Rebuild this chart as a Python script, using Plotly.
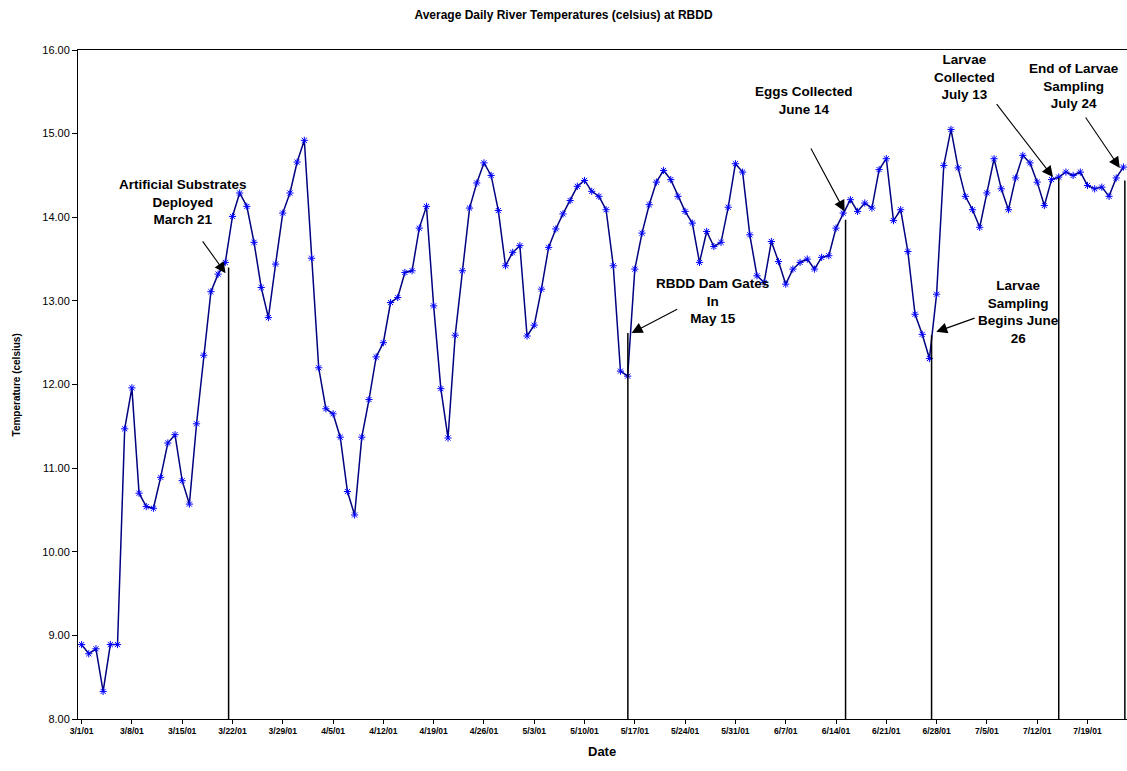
import pandas as pd
import plotly.graph_objects as go

# ---------------- data ----------------
start_date = "2001-03-01"

temps = [
    8.89, 8.78, 8.84, 8.33, 8.89, 8.89, 11.47, 11.96, 10.70, 10.54,
    10.52, 10.89, 11.30, 11.40, 10.85, 10.57, 11.53, 12.35, 13.11, 13.32,
    13.46, 14.01, 14.29, 14.13, 13.70, 13.16, 12.80, 13.44, 14.05, 14.29,
    14.66, 14.92, 13.51, 12.20, 11.71, 11.65, 11.37, 10.72, 10.44, 11.37,
    11.82, 12.33, 12.50, 12.98, 13.04, 13.34, 13.36, 13.87, 14.13, 12.94,
    11.95, 11.36, 12.59, 13.36, 14.11, 14.41, 14.65, 14.50, 14.08, 13.42,
    13.58, 13.66, 12.58, 12.71, 13.14, 13.64, 13.86, 14.04, 14.20, 14.37,
    14.44, 14.31, 14.25, 14.09, 13.42, 12.16, 12.10, 13.38, 13.81, 14.15,
    14.42, 14.56, 14.45, 14.25, 14.07, 13.93, 13.46, 13.83, 13.65, 13.70,
    14.12, 14.64, 14.54, 13.79, 13.30, 13.22, 13.71, 13.47, 13.20, 13.38,
    13.46, 13.50, 13.38, 13.52, 13.54, 13.87, 14.05, 14.21, 14.07, 14.17,
    14.11, 14.57, 14.70, 13.96, 14.09, 13.59, 12.84, 12.60, 12.31, 13.08,
    14.62, 15.05, 14.59, 14.25, 14.09, 13.88, 14.29, 14.70, 14.34, 14.09,
    14.47, 14.74, 14.65, 14.42, 14.14, 14.45, 14.48, 14.54, 14.50, 14.54,
    14.38, 14.34, 14.36, 14.25, 14.47, 14.60,
]

tick_labels = [
    "3/1/01", "3/8/01", "3/15/01", "3/22/01", "3/29/01", "4/5/01", "4/12/01",
    "4/19/01", "4/26/01", "5/3/01", "5/10/01", "5/17/01", "5/24/01", "5/31/01",
    "6/7/01", "6/14/01", "6/21/01", "6/28/01", "7/5/01", "7/12/01", "7/19/01",
]

y_tick_values = [8, 9, 10, 11, 12, 13, 14, 15, 16]

event_texts = [
    "Artificial Substrates<br>Deployed<br>March 21",
    "RBDD Dam Gates<br>In<br>May 15",
    "Eggs Collected<br>June 14",
    "Larvae<br>Sampling<br>Begins June<br>26",
    "Larvae<br>Collected<br>July 13",
    "End of Larvae<br>Sampling<br>July 24",
]

# ---------------- derived ----------------
t0 = pd.Timestamp(start_date)
dates = pd.date_range(t0, periods=len(temps), freq="D")
tick_vals = [pd.to_datetime(t, format="%m/%d/%y") for t in tick_labels]


def day(d):
    return (t0 + pd.Timedelta(days=d)).strftime("%Y-%m-%d %H:%M:%S")


FONT = "Arial, Liberation Sans, sans-serif"

fig = go.Figure()
fig.add_trace(go.Scatter(
    x=dates, y=temps, mode="lines+markers",
    line=dict(color="#000080", width=1.5),
    marker=dict(symbol="asterisk-open", size=6, color="#0000FF",
                line=dict(color="#0000FF", width=1)),
    showlegend=False,
))

# layout of event annotations: text centre, arrow tail, arrow head, vertical line
event_layout = [
    dict(tx=14.06, ty=14.18, ax=16.7, ay=13.73, hx=20.04, hy=13.33, lx=20.46, ly=13.40),
    dict(tx=87.8, ty=13.00, ax=83.1, ay=12.91, hx=76.55, hy=12.615, lx=76.03, ly=12.615),
    dict(tx=100.6, ty=15.40, ax=101.4, ay=14.84, hx=106.2, hy=14.07, lx=106.33, ly=13.97),
    dict(tx=130.4, ty=12.87, ax=124.5, ay=12.80, hx=118.95, hy=12.63, lx=118.3, ly=12.59),
    dict(tx=122.9, ty=15.68, ax=127.2, ay=15.37, hx=135.2, hy=14.48, lx=136.0, ly=14.47),
    dict(tx=138.1, ty=15.57, ax=139.6, ay=15.21, hx=144.5, hy=14.59, lx=145.2, ly=14.44),
]

annotations = []
shapes = []
for text, ev in zip(event_texts, event_layout):
    annotations.append(dict(
        x=day(ev["tx"]), y=ev["ty"], xref="x", yref="y", text=text,
        showarrow=False, xanchor="center", yanchor="middle", align="center",
        font=dict(family=FONT, size=13.5, color="black", weight="bold"),
    ))
    annotations.append(dict(
        x=day(ev["hx"]), y=ev["hy"], xref="x", yref="y",
        ax=day(ev["ax"]), ay=ev["ay"], axref="x", ayref="y",
        text="", showarrow=True, arrowhead=2, arrowsize=2.0,
        arrowwidth=1.1, arrowcolor="black", standoff=0,
    ))
    shapes.append(dict(
        type="line", xref="x", yref="y",
        x0=day(ev["lx"]), x1=day(ev["lx"]), y0=ev["ly"], y1=8,
        line=dict(color="black", width=1.5),
    ))

# axis titles
annotations.append(dict(
    text="Temperature (celsius)", xref="paper", yref="paper",
    x=-0.0582, y=0.5, xanchor="center", yanchor="middle", textangle=-90,
    showarrow=False, font=dict(family=FONT, size=10, color="black", weight="bold"),
))
annotations.append(dict(
    text="Date", xref="paper", yref="paper",
    x=0.4995, y=-0.048, xanchor="center", yanchor="middle",
    showarrow=False, font=dict(family=FONT, size=13, color="black", weight="bold"),
))

fig.update_layout(
    width=1127, height=771,
    margin=dict(l=78, r=0, t=50, b=52),
    paper_bgcolor="white", plot_bgcolor="white",
    title=dict(
        text="Average Daily River Temperatures (celsius) at RBDD",
        x=0.5, xref="container", xanchor="center",
        y=1 - 15 / 771, yref="container", yanchor="middle",
        font=dict(family=FONT, size=12, color="black", weight="bold"),
    ),
    xaxis=dict(
        type="date",
        range=[day(-0.5), day(len(temps) - 0.5)],
        tickvals=tick_vals, ticktext=tick_labels,
        tickfont=dict(family=FONT, size=8.5, color="black", weight="bold"),
        ticks="outside", ticklen=4, tickcolor="black",
        showline=True, linecolor="black", linewidth=1, mirror=True,
        showgrid=False, zeroline=False,
    ),
    yaxis=dict(
        range=[8, 16],
        tickvals=y_tick_values,
        ticktext=[f"{v:.2f}" for v in y_tick_values],
        tickfont=dict(family=FONT, size=11, color="black"),
        ticks="outside", ticklen=5, tickcolor="black",
        showline=True, linecolor="black", linewidth=1,
        showgrid=False, zeroline=False,
    ),
    annotations=annotations,
    shapes=shapes,
)

fig.write_html(
    "out.html",
    config={"displayModeBar": False},
    post_script="document.body.style.margin='0';document.body.style.overflow='hidden';",
)
